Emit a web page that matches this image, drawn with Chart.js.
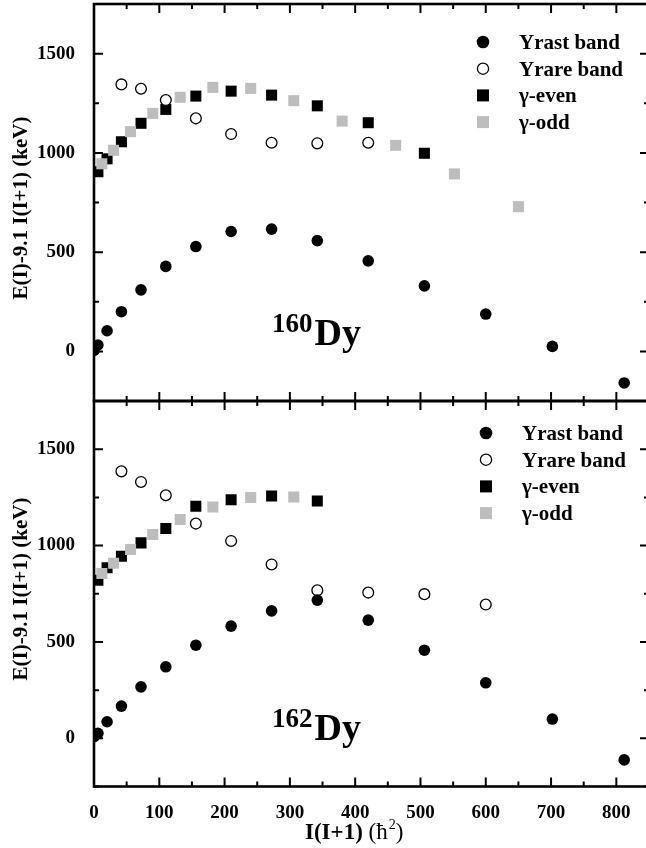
<!DOCTYPE html>
<html>
<head>
<meta charset="utf-8">
<script src="https://cdn.jsdelivr.net/npm/chart.js@4.4.1/dist/chart.umd.min.js"></script>
<style>
  html, body { margin: 0; padding: 0; background: #fff; overflow: hidden; }
  #wrap { position: relative; width: 646px; height: 848px; overflow: hidden; }
  canvas { position: absolute; left: 0; }
  #top { top: 0; }
  #bottom { top: 396px; }
</style>
</head>
<body>
<div id="wrap">
  <canvas id="top" width="652" height="405"></canvas>
  <canvas id="bottom" width="652" height="452"></canvas>
</div>
<script>
// x values are I(I+1)
const yrastX = [0, 6, 20, 42, 72, 110, 156, 210, 272, 342, 420, 506, 600, 702, 812];

// 160Dy
const yrast160 = [5, 32, 104, 200, 310, 428, 528, 604, 616, 558, 456, 330, 188, 25, -159];
const yrareX160 = [42, 72, 110, 156, 210, 272, 342, 420];
const yrare160 = [1345, 1323, 1266, 1174, 1095, 1051, 1048, 1051];
const gEvenX160 = [6, 20, 42, 72, 110, 156, 210, 272, 342, 420, 506];
const gEven160 = [905, 970, 1056, 1149, 1219, 1286, 1311, 1291, 1237, 1152, 998];
const gOddX160 = [12, 30, 56, 90, 132, 182, 240, 306, 380, 462, 552, 650];
const gOdd160 = [945, 1013, 1107, 1199, 1280, 1330, 1325, 1263, 1160, 1038, 894, 729];

// 162Dy
const yrast162 = [8, 26, 86, 167, 267, 371, 483, 582, 661, 717, 613, 457, 288, 100, -112];
const yrareX162 = [42, 72, 110, 156, 210, 272, 342, 420, 506, 600];
const yrare162 = [1385, 1330, 1261, 1114, 1024, 902, 768, 756, 748, 694];
const gEvenX162 = [6, 20, 42, 72, 110, 156, 210, 272, 342];
const gEven162 = [820, 885, 945, 1014, 1088, 1204, 1238, 1257, 1231];
const gOddX162 = [12, 30, 56, 90, 132, 182, 240, 306];
const gOdd162 = [855, 908, 980, 1057, 1135, 1200, 1249, 1252];

const legendLabels = ["Yrast band", "Yrare band", "\u03b3-even", "\u03b3-odd"];
const xTicks = [0, 100, 200, 300, 400, 500, 600, 700, 800];
const yTicks = [0, 500, 1000, 1500];

const SERIF = "'Liberation Serif', 'Times New Roman', serif";
const GRAY = "#bdbdbd";

function pts(xs, ys) {
  return xs.map((x, i) => ({ x: x, y: ys[i] }));
}

function makeDatasets(yrast, yrareX, yrare, evX, ev, odX, od) {
  return [
    { label: legendLabels[3], data: pts(odX, od), pointStyle: "rect", pointRadius: 7.8,
      backgroundColor: GRAY, borderWidth: 0, order: 0 },
    { label: legendLabels[0], data: pts(yrastX, yrast), pointStyle: "circle", pointRadius: 5.8,
      backgroundColor: "#000", borderWidth: 0, order: 1 },
    { label: legendLabels[1], data: pts(yrareX, yrare), pointStyle: "circle", pointRadius: 5.4,
      backgroundColor: "#fff", borderColor: "#000", borderWidth: 1.3, order: 2 },
    { label: legendLabels[2], data: pts(evX, ev), pointStyle: "rect", pointRadius: 7.8,
      backgroundColor: "#000", borderWidth: 0, order: 3 }
  ];
}

// frame, inward ticks, titles, legend, nucleus label
const panelDecor = {
  id: "panelDecor",
  afterDraw(chart, args, o) {
    const { ctx, chartArea: a, scales: { x, y } } = chart;
    ctx.save();
    ctx.strokeStyle = "#000";
    ctx.lineWidth = 2;
    ctx.beginPath();
    for (let v = 0; v <= 850; v += 50) {
      const px = x.getPixelForValue(v);
      const len = v % 100 === 0 ? 9 : 5;
      ctx.moveTo(px, a.bottom); ctx.lineTo(px, a.bottom - len);
      ctx.moveTo(px, a.top); ctx.lineTo(px, a.top + len);
    }
    for (let v = -250; v <= 1750; v += 250) {
      const py = y.getPixelForValue(v);
      const len = v % 500 === 0 ? 9 : 5;
      ctx.moveTo(a.left, py); ctx.lineTo(a.left + len, py);
      ctx.moveTo(a.right, py); ctx.lineTo(a.right - len, py);
    }
    ctx.stroke();
    ctx.lineWidth = 2.6;
    ctx.strokeRect(a.left, a.top, a.right - a.left, a.bottom - a.top);

    ctx.fillStyle = "#000";
    // y title
    ctx.save();
    ctx.translate(22, o.yTitleY);
    ctx.rotate(-Math.PI / 2);
    ctx.font = "bold 21px " + SERIF;
    ctx.textAlign = "center";
    ctx.textBaseline = "middle";
    ctx.fillText("E(I)-9.1 I(I+1) (keV)", 0, 0);
    ctx.restore();

    // nucleus label
    ctx.textAlign = "left";
    ctx.textBaseline = "alphabetic";
    ctx.font = "bold 27px " + SERIF;
    ctx.fillText(o.mass, 272, o.labelBase - 13);
    const w = ctx.measureText(o.mass).width;
    ctx.font = "bold 38px " + SERIF;
    ctx.fillText("Dy", 272 + w + 2, o.labelBase);

    // legend
    ctx.font = "bold 21px " + SERIF;
    legendLabels.forEach((lab, i) => {
      const cy = o.legY + i * 26.7;
      const cx = o.legX;
      if (i < 2) {
        ctx.beginPath();
        ctx.arc(cx, cy, i === 0 ? 6.3 : 5.6, 0, Math.PI * 2);
        ctx.fillStyle = i === 0 ? "#000" : "#fff";
        ctx.fill();
        if (i === 1) { ctx.lineWidth = 1.3; ctx.stroke(); }
      } else {
        ctx.fillStyle = i === 2 ? "#000" : GRAY;
        ctx.fillRect(cx - 6, cy - 6, 12, 12);
      }
      ctx.fillStyle = "#000";
      ctx.fillText(lab, o.legX + 36, cy + 7);
    });

    // x title
    if (o.xTitle) {
      const bx = 305, by = 442.5;
      ctx.font = "bold 23px " + SERIF;
      ctx.fillText("I(I+1)", bx, by);
      let cx = bx + ctx.measureText("I(I+1)").width;
      ctx.font = "23px " + SERIF;
      ctx.fillText(" (\u0127", cx, by);
      cx += ctx.measureText(" (\u0127").width;
      ctx.font = "14px " + SERIF;
      ctx.fillText("2", cx + 1, by - 10);
      cx += ctx.measureText("2").width + 1;
      ctx.font = "23px " + SERIF;
      ctx.fillText(")", cx, by);
    }
    ctx.restore();
  }
};

function makeChart(id, datasets, showX, deco, pad) {
  return new Chart(document.getElementById(id), {
    type: "scatter",
    data: { datasets: datasets },
    plugins: [panelDecor],
    options: {
      responsive: false,
      animation: false,
      devicePixelRatio: 1,
      events: [],
      layout: { autoPadding: false, padding: pad },
      plugins: { legend: { display: false }, tooltip: { enabled: false }, panelDecor: deco },
      scales: {
        x: {
          type: "linear",
          display: showX,
          min: 0, max: 850,
          grid: { display: false },
          border: { display: false },
          afterFit: s => {
            s.height = showX ? 61.5 : 0;
            s.paddingLeft = 0; s.paddingRight = 0;
          },
          afterBuildTicks: s => { s.ticks = xTicks.map(v => ({ value: v })); },
          ticks: {
            color: "#000",
            padding: 7,
            maxRotation: 0,
            callback: v => String(v),
            font: { family: SERIF, size: 19, weight: "bold" }
          }
        },
        y: {
          type: "linear",
          min: -250, max: 1750,
          grid: { display: false },
          border: { display: false },
          afterFit: s => {
            s.width = 94;
            s.paddingTop = 0; s.paddingBottom = 0;
          },
          afterBuildTicks: s => { s.ticks = yTicks.map(v => ({ value: v })); },
          ticks: {
            color: "#000",
            padding: 11,
            callback: v => String(v),
            font: { family: SERIF, size: 19, weight: "bold" }
          }
        }
      }
    }
  });
}

makeChart("top",
  makeDatasets(yrast160, yrareX160, yrare160, gEvenX160, gEven160, gOddX160, gOdd160),
  false,
  { mass: "160", labelBase: 345, legX: 483, legY: 42, yTitleY: 208, xTitle: false },
  { top: 4, bottom: 4, left: 0, right: 3 });

makeChart("bottom",
  makeDatasets(yrast162, yrareX162, yrare162, gEvenX162, gEven162, gOddX162, gOdd162),
  true,
  { mass: "162", labelBase: 344, legX: 486, legY: 37, yTitleY: 193, xTitle: true },
  { top: 5, bottom: 0, left: 0, right: 3 });
</script>
</body>
</html>
